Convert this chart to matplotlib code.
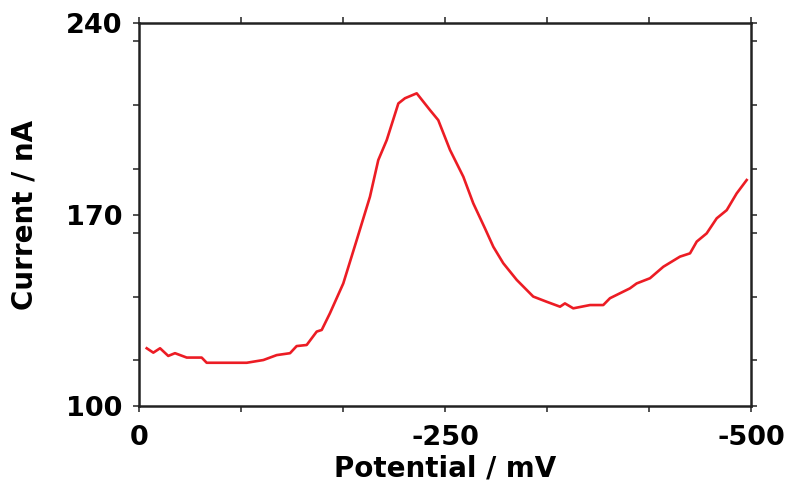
import numpy as np
import matplotlib.pyplot as plt
from matplotlib.ticker import MultipleLocator

plt.rcParams['font.family'] = ['DejaVu Sans']
plt.rcParams['axes.unicode_minus'] = False

# potential (mV) and current (nA)
potential = [-6.3, -11.7, -17.2, -23.9, -29.4, -39.0, -51.2, -55.3, -71.7, -88.0,
             -101.6, -112.5, -123.4, -128.8, -137.0, -145.2, -149.3, -156.0, -166.9,
             -177.9, -188.7, -195.5, -202.4, -211.9, -217.3, -226.9, -237.7, -244.5,
             -254.1, -265.0, -273.1, -282.7, -289.5, -297.6, -308.6, -322.1, -333.1,
             -344.0, -348.0, -354.8, -368.5, -379.3, -384.8, -401.1, -406.6, -417.5,
             -428.4, -442.0, -450.2, -455.7, -463.8, -472.0, -480.2, -488.3, -496.5]
current = [121.1, 119.5, 121.1, 118.3, 119.3, 117.7, 117.7, 115.8, 115.8, 115.8,
           116.8, 118.6, 119.3, 121.9, 122.3, 127.2, 127.8, 133.9, 144.8,
           160.7, 176.5, 189.9, 197.2, 210.6, 212.5, 214.3, 208.2, 204.5,
           193.6, 183.8, 174.1, 164.9, 158.2, 152.2, 146.1, 140.0, 138.1,
           136.3, 137.5, 135.7, 136.9, 136.9, 139.4, 143.0, 144.8, 146.7,
           150.9, 154.6, 155.8, 160.1, 163.1, 168.6, 171.6, 177.7, 182.6]

fig = plt.figure(figsize=(7.88, 4.93), dpi=100)
ax = fig.add_axes([0.1764, 0.1765, 0.7766, 0.7768])

ax.plot(potential, current, color='#ec1c24', linewidth=1.9)

ax.set_xlim(0, -500)
ax.set_ylim(100, 240)
ax.set_xticks([0, -250, -500])
ax.set_yticks([100, 170, 240])
ax.xaxis.set_minor_locator(MultipleLocator(250 / 3))
ax.yaxis.set_minor_locator(MultipleLocator(70 / 3))
ax.tick_params(which='both', direction='out', top=True, right=True,
               length=4, width=1.2, color='#333333')
ax.tick_params(axis='x', labelsize=19.5, pad=10)
ax.tick_params(axis='y', labelsize=19.5, pad=8)
for lab in ax.get_xticklabels() + ax.get_yticklabels():
    lab.set_fontweight('bold')

for sp in ax.spines.values():
    sp.set_linewidth(1.8)
    sp.set_color('#222222')

ax.set_xlabel('Potential / mV', fontsize=20, fontweight='bold', labelpad=2)
ax.set_ylabel('Current / nA', fontsize=20, fontweight='bold', labelpad=20)

fig.savefig('out.png', dpi=100)
